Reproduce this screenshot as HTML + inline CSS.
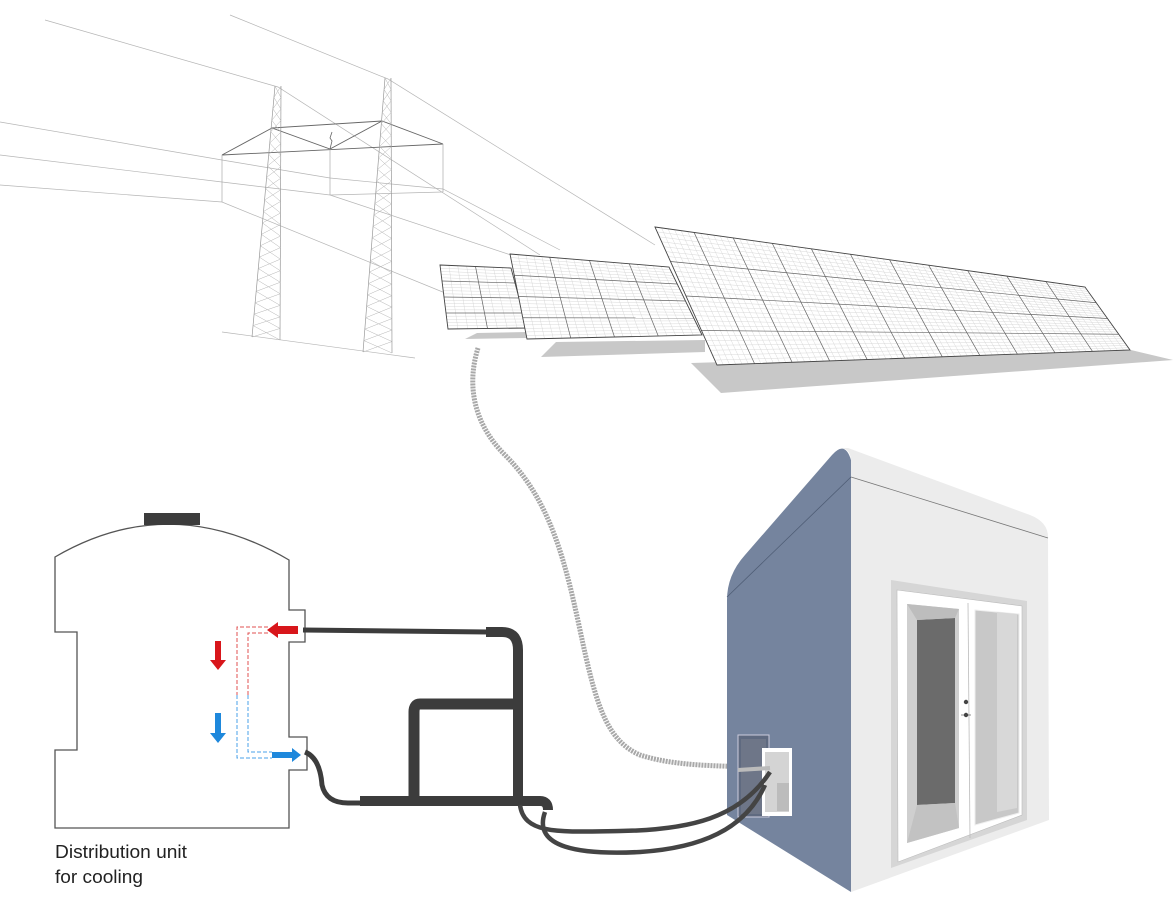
<!DOCTYPE html>
<html><head><meta charset="utf-8"><style>
html,body{margin:0;padding:0;background:#fff;}
svg{display:block}
text{font-family:"Liberation Sans",sans-serif;}
</style></head><body>
<svg id="s" width="1173" height="899" viewBox="0 0 1173 899" xmlns="http://www.w3.org/2000/svg">
<g id="wires" stroke="#b5b5b5" stroke-width="0.7" fill="none">
<polyline points="45,20 278,87 540,255"/>
<polyline points="230,15 388,79 655,245"/>
<polyline points="0,122 222,160 330,178 443,189 560,250"/>
<polyline points="0,155 222,182 330,195 443,192"/>
<polyline points="0,185 222,202 455,297"/>
<polyline points="330,195 520,258"/>
<line x1="222" y1="332" x2="415" y2="358"/>
</g>
<g stroke="#666" stroke-width="0.9" fill="none">
<polyline points="222,155 272,128 330,149 382,121 443,144"/>
<line x1="272" y1="128" x2="382" y2="121"/>
<line x1="222" y1="155" x2="443" y2="144"/>
<path d="M330,149 l2,-8 -2,-3 2,-6" stroke-width="0.8"/>
</g>
<g stroke="#aaa" stroke-width="0.7">
<line x1="222" y1="155" x2="222" y2="202"/><line x1="330" y1="149" x2="330" y2="195"/><line x1="443" y1="144" x2="443" y2="192"/>
</g>
<g id="towers" stroke="#9a9a9a" stroke-width="0.6" fill="none"></g>
<g id="shadows" fill="#c8c8c8">
<polygon points="465,339 477,333 527,332 527,338"/>
<polygon points="541,357 556,342 705,340 705,352"/>
<polygon points="691,363 1131,350 1173,360 721,393"/>
</g>
<g id="panels"></g>
<path d="M478,348 C468,380 470,420 505,455 C550,500 565,560 580,630 C595,700 605,740 640,755 C680,768 730,765 765,768" stroke="#a8a8a8" stroke-width="5" fill="none" stroke-dasharray="2 1"/>
<!-- building -->
<path d="M727,815 L727,600 Q727,575 745,555 L832,455 Q845,440 851,460 L851,892 Z" fill="#75849e"/>
<path d="M851,460 Q850,448 840,448 L848,448 L1030,515 Q1048,522 1048,537 L1049,820 L851,892 Z" fill="#ececec"/>
<line x1="851" y1="477" x2="1048" y2="538" stroke="#777" stroke-width="0.8"/>
<line x1="727" y1="597" x2="851" y2="477" stroke="#4f5d75" stroke-width="0.8"/>
<polygon points="891,580 1027,601 1027,820 891,868" fill="#d6d6d6"/>
<polygon points="897,590 1022,606 1022,815 898,862" fill="#fff" stroke="#bbb" stroke-width="0.6"/>
<polygon points="907,604 959,609 959,828 907,843" fill="#cfcfcf"/>
<polygon points="917,620 955,618 955,803 917,805" fill="#6b6b6b"/>
<polygon points="907,604 959,609 955,618 917,620" fill="#bdbdbd"/>
<polygon points="917,805 955,803 959,828 907,843" fill="#c2c2c2"/>
<line x1="968" y1="603" x2="970" y2="838" stroke="#bbb" stroke-width="0.8"/>
<polygon points="975,610 1019,614 1019,813 975,825" fill="#c8c8c8" stroke="#eee"/>
<polygon points="997,612 1017,614 1017,808 997,812" fill="#d8d8d8"/>
<circle cx="966" cy="702" r="2.2" fill="#444"/><circle cx="966" cy="715" r="2.2" fill="#444"/>
<line x1="961" y1="715" x2="971" y2="715" stroke="#444" stroke-width="0.6"/>
<rect x="738" y="735" width="31" height="82" fill="#5f6a80" stroke="#ccd" stroke-width="1"/>
<rect x="741" y="739" width="25" height="75" fill="#6e7688"/>
<rect x="762" y="748" width="30" height="68" fill="#fff"/>
<rect x="765" y="752" width="24" height="60" fill="#d4d4d4"/>
<rect x="777" y="783" width="12" height="28" fill="#bcbcbc"/>
<path d="M738,770 L770,768" stroke="#bbb" stroke-width="4"/>
<!-- distribution unit -->
<path d="M55,828 L55,750 L77,750 L77,632 L55,632 L55,557 Q170,490 289,560 L289,610 L305,610 L305,642 L289,642 L289,737 L307,737 L307,770 L289,770 L289,828 Z" fill="#fff" stroke="#555" stroke-width="1.3"/>
<rect x="144" y="513" width="56" height="12" fill="#3c3c3c"/>
<g fill="none" stroke-width="1" stroke-dasharray="4 2">
<polyline points="268,627 237,627 237,695" stroke="#e05050"/>
<polyline points="268,633 248,633 248,695" stroke="#e05050"/>
<polyline points="237,695 237,758 272,758" stroke="#4aa0e8"/>
<polyline points="248,695 248,752 272,752" stroke="#4aa0e8"/>
</g>
<path d="M298,626 L278,626 L278,622 L267,630 L278,638 L278,634 L298,634 Z" fill="#d8161b"/>
<path d="M215,641 L221,641 L221,660 L226,660 L218,670 L210,660 L215,660 Z" fill="#d8161b"/>
<path d="M215,713 L221,713 L221,733 L226,733 L218,743 L210,733 L215,733 Z" fill="#1e88dc"/>
<path d="M272,752 L292,752 L292,748 L301,755 L292,762 L292,758 L272,758 Z" fill="#1e88dc"/>
<!-- pipes -->
<g fill="none" stroke="#3c3c3c" stroke-linecap="butt">
<path d="M303,630 L488,632" stroke-width="5"/>
<path d="M486,632 L502,632 Q518,632 518,650 L518,798" stroke-width="10"/>
<path d="M514,704 L420,704 Q414,704 414,712 L414,796" stroke-width="11"/>
<path d="M305,752 Q320,758 322,785 Q326,803 348,803 L362,803" stroke-width="5"/>
<path d="M360,801 L540,801 Q548,801 548,810" stroke-width="10"/>
<path d="M520,805 C524,835 560,832 620,831 C690,830 740,818 770,772" stroke-width="4.5" stroke="#444"/>
<path d="M545,812 C532,848 580,855 640,852 C700,848 745,830 765,785" stroke-width="4.5" stroke="#444"/>
</g>
<text x="55" y="858" font-size="18.5" fill="#222" textLength="132" lengthAdjust="spacingAndGlyphs">Distribution unit</text>
<text x="55" y="883" font-size="18.5" fill="#222" textLength="88" lengthAdjust="spacingAndGlyphs">for cooling</text>
</svg>
<script>
var NS="http://www.w3.org/2000/svg";
function ln(g,a,b,c,w){var l=document.createElementNS(NS,"line");l.setAttribute("x1",a[0]);l.setAttribute("y1",a[1]);l.setAttribute("x2",b[0]);l.setAttribute("y2",b[1]);l.setAttribute("stroke",c);l.setAttribute("stroke-width",w);g.appendChild(l);}
function bl(q,u,v){var t=[q[0][0]+(q[1][0]-q[0][0])*u,q[0][1]+(q[1][1]-q[0][1])*u],b=[q[3][0]+(q[2][0]-q[3][0])*u,q[3][1]+(q[2][1]-q[3][1])*u];return[t[0]+(b[0]-t[0])*v,t[1]+(b[1]-t[1])*v];}
var P=document.getElementById("panels");
function panel(q,cols,rows,fc,fr){
 var p=document.createElementNS(NS,"polygon");p.setAttribute("points",q.map(function(a){return a.join(",")}).join(" "));p.setAttribute("fill","#fff");P.appendChild(p);
 var nc=cols*fc,nr=rows*fr,i;
 for(i=1;i<nc;i++){if(i%fc)ln(P,bl(q,i/nc,0),bl(q,i/nc,1),"#cfcfcf",0.4);}
 for(i=1;i<nr;i++){if(i%fr)ln(P,bl(q,0,i/nr),bl(q,1,i/nr),"#cfcfcf",0.4);}
 for(i=1;i<cols;i++)ln(P,bl(q,i/cols,0),bl(q,i/cols,1),"#666",0.7);
 for(i=1;i<rows;i++)ln(P,bl(q,0,i/rows),bl(q,1,i/rows),"#666",0.7);
 var b=document.createElementNS(NS,"polygon");b.setAttribute("points",q.map(function(a){return a.join(",")}).join(" "));b.setAttribute("fill","none");b.setAttribute("stroke","#444");b.setAttribute("stroke-width","0.9");P.appendChild(b);
}
panel([[440,265],[511,268],[527,328],[448,329]],2,4,4,5);
panel([[510,254],[669,267],[702,335],[527,339]],4,4,5,6);
panel([[655,227],[1085,287],[1130,350],[717,365]],11,4,6,7);
var T=document.getElementById("towers");
function tower(top,bl_,br_,n){
 var tl=[top[0]-3,top[1]],tr=[top[0]+3,top[1]];
 ln(T,tl,bl_,"#999",0.7);ln(T,tr,br_,"#999",0.7);
 for(var i=0;i<n;i++){var a=i/n,b=(i+1)/n;
  var L1=[tl[0]+(bl_[0]-tl[0])*a,tl[1]+(bl_[1]-tl[1])*a],R1=[tr[0]+(br_[0]-tr[0])*a,tr[1]+(br_[1]-tr[1])*a],
      L2=[tl[0]+(bl_[0]-tl[0])*b,tl[1]+(bl_[1]-tl[1])*b],R2=[tr[0]+(br_[0]-tr[0])*b,tr[1]+(br_[1]-tr[1])*b];
  ln(T,L1,R2,"#b4b4b4",0.5);ln(T,R1,L2,"#b4b4b4",0.5);}
}
tower([278,86],[252,337],[280,340],22);
tower([388,78],[363,352],[392,353],24);
</script>
</body></html>
